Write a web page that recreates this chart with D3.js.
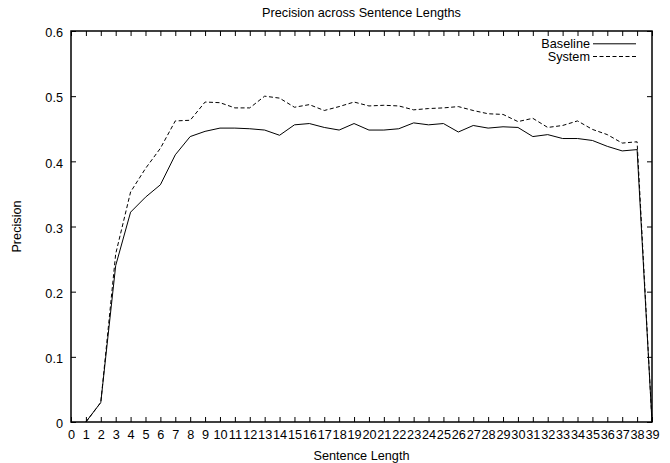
<!DOCTYPE html>
<html>
<head>
	<meta charset="utf-8">
	<title>Precision across Sentence Lengths</title>
	<script type="text/javascript" src="https://cdn.jsdelivr.net/npm/d3@7"></script>
	<style>
		body {
			font-family: "Liberation Sans", Arial, Helvetica, sans-serif;
			margin: 0;
			background: #fff;
		}
	</style>
</head>

<body>

	<div id="chart"></div>

	<script>

	// data

	const lengths = d3.range(1, 40);   // sentence lengths 1..39

	const baseline = [
		0, 0.03, 0.24, 0.322, 0.345, 0.364, 0.41, 0.438, 0.446, 0.451,
		0.451, 0.450, 0.448, 0.440, 0.456, 0.458, 0.452, 0.448, 0.458, 0.448,
		0.448, 0.450, 0.459, 0.456, 0.458, 0.445, 0.455, 0.451, 0.453, 0.452,
		0.438, 0.441, 0.435, 0.435, 0.432, 0.423, 0.416, 0.418, 0
	];

	const system = [
		0, 0.03, 0.258, 0.353, 0.389, 0.420, 0.462, 0.463, 0.491, 0.490,
		0.482, 0.482, 0.500, 0.497, 0.483, 0.487, 0.478, 0.484, 0.491, 0.485,
		0.486, 0.485, 0.479, 0.481, 0.482, 0.484, 0.478, 0.473, 0.472, 0.461,
		0.466, 0.452, 0.455, 0.462, 0.449, 0.441, 0.428, 0.430, 0
	];

	const xTicks = d3.range(0, 40);
	const yTicks = [0, 0.1, 0.2, 0.3, 0.4, 0.5, 0.6];

	const series = [
		{ name: "Baseline", values: baseline, dash: null },
		{ name: "System",   values: system,   dash: "4,2.5" }
	];

	const width        = 670;
	const height       = 463;
	const marginLeft   = 71;
	const marginRight  = 18;
	const marginTop    = 31;
	const marginBottom = 41;
	const fontSize     = "12.7px";

	const svg = d3.select("#chart")
		.append("svg")
		.attr("width", width)
		.attr("height", height)
		.attr("viewBox", [0, 0, width, height])
		.style("font-family", "'Liberation Sans', Arial, sans-serif")
		.style("font-size", fontSize);

	const x = d3.scaleLinear([0, 39], [marginLeft, width - marginRight]);
	const y = d3.scaleLinear([0, 0.6], [height - marginBottom, marginTop]);

	const fmtY = v => v === 0 ? "0" : d3.format(".1f")(v);
	const tickLen = 5;

	// bottom axis, inward ticks
	svg.append("g")
		.attr("transform", `translate(0,${y(0)})`)
		.call(d3.axisBottom(x).tickValues(xTicks).tickFormat(d3.format("d"))
			.tickSizeInner(-tickLen).tickSizeOuter(0).tickPadding(8))
		.call(g => g.select(".domain").remove())
		.call(g => g.selectAll("text").attr("fill", "#000").style("font-size", fontSize));

	// top ticks
	svg.append("g")
		.attr("transform", `translate(0,${y(0.6)})`)
		.call(d3.axisTop(x).tickValues(xTicks).tickFormat("")
			.tickSizeInner(-tickLen).tickSizeOuter(0))
		.call(g => g.select(".domain").remove());

	// left axis
	svg.append("g")
		.attr("transform", `translate(${x(0)},0)`)
		.call(d3.axisLeft(y).tickValues(yTicks).tickFormat(fmtY)
			.tickSizeInner(-tickLen).tickSizeOuter(0).tickPadding(8))
		.call(g => g.select(".domain").remove())
		.call(g => g.selectAll("text").attr("fill", "#000").attr("dy", "0.45em").style("font-size", fontSize));

	// right ticks
	svg.append("g")
		.attr("transform", `translate(${x(39)},0)`)
		.call(d3.axisRight(y).tickValues(yTicks).tickFormat("")
			.tickSizeInner(-tickLen).tickSizeOuter(0))
		.call(g => g.select(".domain").remove());

	// frame
	svg.append("rect")
		.attr("x", x(0))
		.attr("y", y(0.6))
		.attr("width", x(39) - x(0))
		.attr("height", y(0) - y(0.6))
		.attr("fill", "none")
		.attr("stroke", "#000")
		.attr("stroke-width", 1.5);

	const line = d3.line()
		.x((d, i) => x(lengths[i]))
		.y(d => y(d));

	svg.selectAll(".series")
		.data(series)
		.join("path")
		.attr("class", "series")
		.attr("fill", "none")
		.attr("stroke", "#000")
		.attr("stroke-width", 1)
		.attr("stroke-dasharray", d => d.dash)
		.attr("d", d => line(d.values));

	// legend
	const legend = svg.append("g");
	series.forEach((s, i) => {
		const ly = 43.8 + i * 12.7;
		legend.append("text")
			.attr("x", 590)
			.attr("y", ly)
			.attr("dy", "0.35em")
			.attr("text-anchor", "end")
			.attr("fill", "#000")
			.text(s.name);
		legend.append("line")
			.attr("x1", 593)
			.attr("x2", 636)
			.attr("y1", ly)
			.attr("y2", ly)
			.attr("stroke", "#000")
			.attr("stroke-width", 1)
			.attr("stroke-dasharray", s.dash);
	});

	// title and axis labels
	svg.append("text")
		.attr("x", (x(0) + x(39)) / 2)
		.attr("y", 16.5)
		.attr("text-anchor", "middle")
		.text("Precision across Sentence Lengths");

	svg.append("text")
		.attr("x", (x(0) + x(39)) / 2)
		.attr("y", 459.5)
		.attr("text-anchor", "middle")
		.text("Sentence Length");

	svg.append("text")
		.attr("transform", `translate(20.5,${(y(0) + y(0.6)) / 2}) rotate(-90)`)
		.attr("text-anchor", "middle")
		.text("Precision");

	</script>

</body>

</html>
